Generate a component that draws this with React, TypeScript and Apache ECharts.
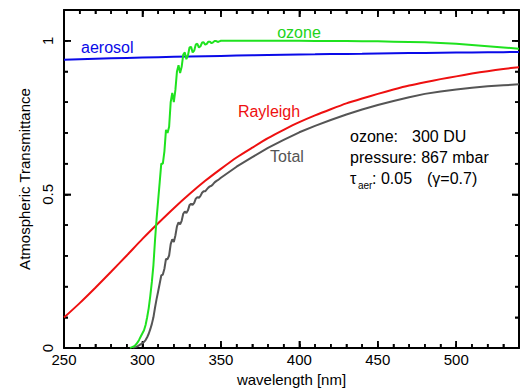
import React, { useEffect, useRef } from "react";
import * as echarts from "echarts";

// wavelength grid (nm) for smooth curves
const wl10 = [250, 260, 270, 280, 290, 300, 310, 320, 330, 340, 350, 360, 370, 380, 390, 400, 410, 420, 430, 440, 450, 460, 470, 480, 490, 500, 510, 520, 530, 540];
const rayleighT = [0.099, 0.146, 0.196, 0.248, 0.301, 0.355, 0.406, 0.455, 0.501, 0.544, 0.583, 0.62, 0.652, 0.683, 0.71, 0.735, 0.757, 0.777, 0.796, 0.812, 0.827, 0.841, 0.854, 0.865, 0.875, 0.884, 0.893, 0.901, 0.908, 0.914];
const aerosolT = [0.938, 0.9396, 0.9412, 0.9426, 0.944, 0.9452, 0.9464, 0.9476, 0.9487, 0.9497, 0.9507, 0.9516, 0.9525, 0.9534, 0.9542, 0.955, 0.9557, 0.9565, 0.9572, 0.9578, 0.9585, 0.9591, 0.9597, 0.9603, 0.9608, 0.9614, 0.9619, 0.9624, 0.9629, 0.9634];

const ozoneWl = [292, 293, 294, 295, 296, 297, 298, 299, 300, 301, 302, 303, 304, 305, 306, 307, 308, 309, 310, 311, 312, 313, 314, 315, 316, 317, 318, 319, 320, 321, 322, 323, 324, 325, 326, 327, 328, 329, 330, 331, 332, 333, 334, 335, 336, 337, 338, 339, 340, 341, 342, 343, 344, 345, 346, 347, 348, 349, 350, 360, 370, 380, 390, 400, 410, 420, 430, 440, 450, 460, 470, 480, 490, 500, 510, 520, 530, 540];
const ozoneT = [0.001, 0.002, 0.004, 0.007, 0.012, 0.019, 0.028, 0.038, 0.048, 0.058, 0.075, 0.1, 0.13, 0.17, 0.215, 0.27, 0.35, 0.42, 0.48, 0.54, 0.6, 0.6, 0.64, 0.71, 0.7, 0.72, 0.8, 0.83, 0.8, 0.84, 0.9, 0.92, 0.895, 0.915, 0.955, 0.962, 0.94, 0.952, 0.978, 0.98, 0.962, 0.968, 0.988, 0.99, 0.978, 0.982, 0.994, 0.995, 0.987, 0.99, 0.997, 0.997, 0.992, 0.995, 0.999, 0.999, 0.996, 0.998, 1.0, 1.0, 1.0, 1.0, 1.0, 1.0, 0.9995, 0.999, 0.999, 0.998, 0.998, 0.997, 0.996, 0.995, 0.993, 0.99, 0.986, 0.982, 0.978, 0.974];

const totalWl = [294, 295, 296, 297, 298, 299, 300, 301, 302, 303, 304, 305, 306, 307, 308, 309, 310, 311, 312, 313, 314, 315, 316, 317, 318, 319, 320, 321, 322, 323, 324, 325, 326, 327, 328, 329, 330, 331, 332, 333, 334, 335, 336, 337, 338, 339, 340, 341, 342, 343, 344, 345, 346, 347, 348, 349, 350, 360, 370, 380, 390, 400, 410, 420, 430, 440, 450, 460, 470, 480, 490, 500, 510, 520, 530, 540];
const totalT = [0.0012, 0.0022, 0.0038, 0.0061, 0.0091, 0.0125, 0.0161, 0.0197, 0.0259, 0.035, 0.0463, 0.0612, 0.0785, 0.0999, 0.131, 0.159, 0.184, 0.21, 0.236, 0.239, 0.258, 0.29, 0.289, 0.301, 0.338, 0.354, 0.345, 0.366, 0.396, 0.409, 0.402, 0.414, 0.437, 0.444, 0.439, 0.448, 0.465, 0.469, 0.466, 0.472, 0.486, 0.491, 0.489, 0.495, 0.505, 0.51, 0.51, 0.516, 0.522, 0.526, 0.528, 0.533, 0.539, 0.543, 0.546, 0.55, 0.554, 0.59, 0.621, 0.651, 0.677, 0.702, 0.723, 0.742, 0.76, 0.776, 0.791, 0.804, 0.816, 0.827, 0.835, 0.841, 0.847, 0.852, 0.855, 0.858];

// tick values
const xTickLabels = [250, 300, 350, 400, 450, 500];
const xMinorTicks = [260, 270, 280, 290, 310, 320, 330, 340, 360, 370, 380, 390, 410, 420, 430, 440, 460, 470, 480, 490, 510, 520, 530];
const yTickLabels = [0, 0.5, 1];
const yMinorTicks = [0.1, 0.2, 0.3, 0.4, 0.6, 0.7, 0.8, 0.9];

const FONT = "Liberation Sans";
const GREEN = "#1fe21f";
const BLUE = "#0a0ae8";
const RED = "#ee1010";
const GRAY = "#555555";
const X_MIN = 250, X_MAX = 540, Y_MIN = 0, Y_MAX = 1.1;

const pairs = (xs: number[], ys: number[]) => xs.map((x, i) => [x, ys[i]]);

function axisCfg(isX: boolean, pos: string, interval: number, major: boolean, labels: boolean) {
  const cfg: any = {
    type: "value",
    min: isX ? X_MIN : Y_MIN,
    max: isX ? X_MAX : Y_MAX,
    interval,
    position: pos,
    splitLine: { show: false },
    axisLine: { show: major, onZero: false, lineStyle: { color: "#000", width: 2 } },
    axisTick: { show: true, inside: true, length: major ? 7 : 4, lineStyle: { color: "#000", width: 1.5 } },
    axisLabel: { show: false },
  };
  if (labels) {
    cfg.axisLabel = {
      show: true,
      showMaxLabel: false,
      margin: isX ? 4 : 9,
      rotate: isX ? 0 : 90,
      color: "#000",
      fontSize: 15,
      fontFamily: FONT,
    };
    cfg.name = isX ? "wavelength [nm]" : "Atmospheric Transmittance";
    cfg.nameLocation = "middle";
    cfg.nameGap = isX ? 24 : 31;
    if (!isX) cfg.nameRotate = 90;
    cfg.nameTextStyle = { color: "#000", fontSize: 15, fontFamily: FONT };
  }
  return cfg;
}

const tickStyle = { stroke: "#000", lineWidth: 1.5 };
const xTickData = [...xTickLabels.map((v) => [v, 0.5, 1]), ...xMinorTicks.map((v) => [v, 0.5, 0])];
const yTickData = [...yTickLabels.map((v) => [400, v, 1]), ...yMinorTicks.map((v) => [400, v, 0])];

// annotation texts as title components (left/top in px)
const label = (left: number, top: number, text: string, color: string, size: number, align = "left") => ({
  text,
  left,
  top,
  padding: 0,
  textAlign: align,
  textStyle: { color, fontSize: size, fontFamily: FONT, fontWeight: "normal" },
});

export default function App() {
  const ref = useRef<HTMLDivElement>(null);
  useEffect(() => {
    if (!ref.current) return;
    const chart = echarts.init(ref.current, null, { renderer: "svg", width: 520, height: 388 });
    const option: any = {
      animation: false,
      backgroundColor: "#fff",
      grid: { left: 64, right: 1, top: 10, bottom: 40, containLabel: false, outerBoundsMode: "none" },
      title: [
        label(81, 39, "aerosol", BLUE, 16),
        label(299, 24, "ozone", "#22d41a", 16, "center"),
        label(269, 103, "Rayleigh", RED, 16, "center"),
        label(287, 148, "Total", GRAY, 16, "center"),
        label(350, 128, "ozone:", "#000", 16),
        label(412, 128, "300 DU", "#000", 16),
        label(350, 149, "pressure: 867 mbar", "#000", 16),
        label(350, 170, "τ", "#000", 16),
        label(358, 180, "aer", "#000", 10),
        label(372, 170, ": 0.05", "#000", 16),
        label(427, 170, "(γ=0.7)", "#000", 16),
      ],
      xAxis: [
        axisCfg(true, "bottom", 50, true, true),
        axisCfg(true, "bottom", 10, false, false),
        axisCfg(true, "top", 50, true, false),
        axisCfg(true, "top", 10, false, false),
      ],
      yAxis: [
        axisCfg(false, "left", 0.5, true, true),
        axisCfg(false, "left", 0.1, false, false),
        axisCfg(false, "right", 0.5, true, false),
        axisCfg(false, "right", 0.1, false, false),
      ],
      series: [
        { type: "line", data: pairs(wl10, aerosolT), showSymbol: false, lineStyle: { color: BLUE, width: 2 } },
        { type: "line", data: pairs(wl10, rayleighT), showSymbol: false, smooth: 0.2, lineStyle: { color: RED, width: 2 } },
        { type: "line", data: pairs(totalWl, totalT), showSymbol: false, lineStyle: { color: GRAY, width: 2 } },
        { type: "line", data: pairs(ozoneWl, ozoneT), showSymbol: false, lineStyle: { color: GREEN, width: 2 } },
        {
          type: "custom",
          data: xTickData,
          clip: false,
          silent: true,
          renderItem: (_p: any, api: any) => {
            const v = api.value(0);
            const len = api.value(2) ? 7 : 4;
            const b = api.coord([v, Y_MIN]);
            const t = api.coord([v, Y_MAX]);
            return {
              type: "group",
              children: [
                { type: "line", shape: { x1: b[0], y1: b[1], x2: b[0], y2: b[1] - len }, style: tickStyle },
                { type: "line", shape: { x1: t[0], y1: t[1], x2: t[0], y2: t[1] + len }, style: tickStyle },
              ],
            };
          },
        },
        {
          type: "custom",
          data: yTickData,
          clip: false,
          silent: true,
          renderItem: (_p: any, api: any) => {
            const v = api.value(1);
            const len = api.value(2) ? 7 : 4;
            const l = api.coord([X_MIN, v]);
            const r = api.coord([X_MAX, v]);
            return {
              type: "group",
              children: [
                { type: "line", shape: { x1: l[0], y1: l[1], x2: l[0] + len, y2: l[1] }, style: tickStyle },
                { type: "line", shape: { x1: r[0], y1: r[1], x2: r[0] - len, y2: r[1] }, style: tickStyle },
              ],
            };
          },
        },
      ],
    };
    chart.setOption(option);
    return () => chart.dispose();
  }, []);
  return <div ref={ref} style={{ position: "fixed", left: 0, top: 0, width: 520, height: 388 }} />;
}
